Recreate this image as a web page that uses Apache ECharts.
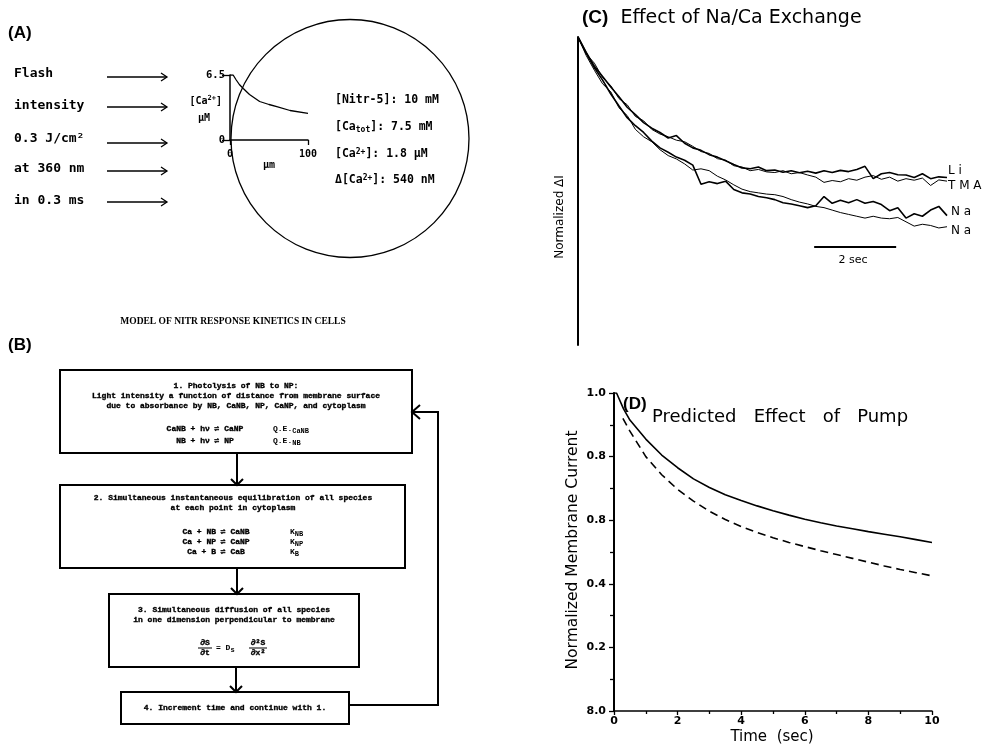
<!DOCTYPE html>
<html>
<head>
<meta charset="utf-8">
<script src="https://cdn.jsdelivr.net/npm/echarts@6/dist/echarts.min.js"></script>
<style>
  html, body { margin: 0; padding: 0; background: #fff; }
  #chart { width: 987px; height: 749px; }
</style>
</head>
<body>
<div id="chart"></div>
<script>
// ---- Panel A: [Ca2+] profile against depth into the cell ----
const depthUm   = [0, 4, 8, 12, 17, 25, 38, 50, 60, 77, 100];
const caProfile = [6.5, 6.5, 6.0, 5.55, 5.15, 4.55, 3.85, 3.55, 3.33, 2.95, 2.66];
const profileYTicks = ['0', '6.5'];
const profileXTicks = ['0', '100'];

// ---- Panel C: normalized fluorescence traces (seconds) ----
const traceTime = [0, 0.2, 0.4, 0.6, 0.8, 1.0, 1.2, 1.4, 1.6, 1.8, 2.0, 2.2, 2.4, 2.6, 2.8, 3.0,
  3.2, 3.4, 3.6, 3.8, 4.0, 4.2, 4.4, 4.6, 4.8, 5.0, 5.2, 5.4, 5.6, 5.8, 6.0, 6.2, 6.4, 6.6,
  6.8, 7.0, 7.2, 7.4, 7.6, 7.8, 8.0, 8.2, 8.4, 8.6, 8.8, 9.0];
const liTrace = [1.000, 0.950, 0.905, 0.872, 0.838, 0.806, 0.772, 0.748, 0.722, 0.704,
  0.690, 0.672, 0.680, 0.655, 0.640, 0.632, 0.618, 0.610, 0.598, 0.586,
  0.575, 0.572, 0.578, 0.566, 0.568, 0.561, 0.566, 0.559, 0.564, 0.558,
  0.566, 0.560, 0.567, 0.563, 0.570, 0.580, 0.540, 0.556, 0.560, 0.553,
  0.552, 0.544, 0.556, 0.540, 0.546, 0.544];
const tmaTrace = [1.000, 0.945, 0.915, 0.868, 0.842, 0.800, 0.780, 0.742, 0.728, 0.700,
  0.685, 0.676, 0.665, 0.660, 0.645, 0.628, 0.622, 0.605, 0.600, 0.582,
  0.578, 0.566, 0.570, 0.562, 0.560, 0.566, 0.556, 0.560, 0.552, 0.545,
  0.528, 0.534, 0.530, 0.540, 0.535, 0.545, 0.550, 0.538, 0.545, 0.532,
  0.540, 0.535, 0.542, 0.518, 0.536, 0.532];
const naTraceA = [1.000, 0.948, 0.900, 0.860, 0.815, 0.776, 0.738, 0.712, 0.690, 0.662,
  0.640, 0.626, 0.610, 0.600, 0.584, 0.522, 0.530, 0.524, 0.532, 0.505,
  0.494, 0.490, 0.482, 0.478, 0.472, 0.462, 0.458, 0.452, 0.446, 0.452,
  0.482, 0.460, 0.470, 0.462, 0.472, 0.460, 0.466, 0.456, 0.436, 0.446,
  0.412, 0.426, 0.418, 0.438, 0.450, 0.420];
const naTraceB = [1.000, 0.940, 0.892, 0.848, 0.822, 0.770, 0.745, 0.700, 0.676, 0.660,
  0.634, 0.615, 0.604, 0.588, 0.568, 0.572, 0.566, 0.548, 0.536, 0.520,
  0.506, 0.498, 0.494, 0.490, 0.488, 0.482, 0.472, 0.464, 0.458, 0.450,
  0.446, 0.438, 0.430, 0.424, 0.418, 0.412, 0.418, 0.412, 0.410, 0.414,
  0.400, 0.386, 0.392, 0.388, 0.380, 0.384];
const traceNames = ['Li', 'TMA', 'Na', 'Na'];
const scaleBarSec = [5.76, 7.76];
const scaleBarLevel = 0.318;

// ---- Panel D: predicted membrane current with / without pump ----
const pumpOnTime = [0, 0, 0.08, 0.3, 0.5, 1, 1.5, 2, 2.5, 3, 3.5, 4, 4.5, 5, 5.5, 6, 6.5, 7, 7.5, 8, 8.5, 9, 9.5, 10];
const pumpOn = [0, 1.0, 1.0, 0.95, 0.915, 0.855, 0.805, 0.765, 0.73, 0.703, 0.68, 0.662, 0.645, 0.63,
  0.616, 0.603, 0.592, 0.582, 0.573, 0.564, 0.556, 0.548, 0.539, 0.530];
const pumpOffTime = [0.28, 0.5, 0.75, 1, 1.5, 2, 2.5, 3, 3.5, 4, 4.5, 5, 5.5, 6, 6.5, 7, 7.5, 8, 8.5, 9, 9.5, 10];
const pumpOff = [0.92, 0.88, 0.84, 0.80, 0.743, 0.697, 0.66, 0.628, 0.602, 0.58, 0.561, 0.545, 0.53,
  0.517, 0.504, 0.492, 0.48, 0.468, 0.456, 0.445, 0.435, 0.425];
const pumpYTickLabels = ['8.0', '0.2', '0.4', '0.8', '0.8', '1.0'];

const zip = (xs, ys) => xs.map((x, i) => [x, ys[i]]);

// ---- fonts ----
const MONO = '"DejaVu Sans Mono", monospace';
const TYPE = '"Liberation Mono", monospace';
const SANS = '"DejaVu Sans", sans-serif';
const BOLDSANS = '"Liberation Sans", Arial, sans-serif';

// ---- graphic helpers ----
function txt(x, y, text, font, align, extra) {
  return Object.assign({
    type: 'text', x: x, y: y, z: 10,
    style: Object.assign({
      text: text, font: font, fill: '#000',
      align: align || 'left', verticalAlign: 'middle',
      textAlign: align || 'left', textVerticalAlign: 'middle'
    }, (extra && extra.style) || {})
  }, extra && extra.rotation !== undefined ? { rotation: extra.rotation } : {});
}
function line(x1, y1, x2, y2, w) {
  return { type: 'line', z: 10, shape: { x1: x1, y1: y1, x2: x2, y2: y2 },
    style: { stroke: '#000', lineWidth: w || 1.3 } };
}
function poly(points, w) {
  return { type: 'polyline', z: 10, shape: { points: points },
    style: { stroke: '#000', lineWidth: w || 1.3, fill: null } };
}
function rect(x, y, w, h, lw) {
  return { type: 'rect', z: 10, shape: { x: x, y: y, width: w, height: h },
    style: { stroke: '#000', lineWidth: lw || 2, fill: null } };
}
function arrowRight(x1, x2, y) {
  return [line(x1, y, x2, y, 1.3), poly([[x2 - 6, y - 4], [x2, y], [x2 - 6, y + 4]], 1.3)];
}
function arrowDown(x, y1, y2) {
  return [line(x, y1, x, y2, 2), poly([[x - 6, y2 - 6], [x, y2], [x + 6, y2 - 6]], 2)];
}
function richTxt(x, y, text, rich, align) {
  return { type: 'text', x: x, y: y, z: 10,
    style: { text: text, rich: rich, fill: '#000', align: align || 'left', verticalAlign: 'middle',
      textAlign: align || 'left', textVerticalAlign: 'middle' } };
}

const g = [];

// ---- Panel A drawing ----
g.push(txt(8, 33, '(A)', 'bold 17px ' + BOLDSANS));
const flashLines = [['Flash', 74, 77], ['intensity', 106, 107], ['0.3 J/cm²', 139, 143],
                    ['at 360 nm', 169, 171], ['in 0.3 ms', 201, 202]];
flashLines.forEach(function (f) {
  g.push(txt(14, f[1], f[0], 'bold 13px ' + MONO));
  arrowRight(107, 167, f[2]).forEach(function (e) { g.push(e); });
});
g.push({ type: 'circle', z: 9, shape: { cx: 350, cy: 138.5, r: 119 },
  style: { stroke: '#000', lineWidth: 1.3, fill: null } });
const richA = {
  n: { fontFamily: MONO, fontWeight: 'bold', fontSize: 11.5 },
  sup: { fontFamily: MONO, fontWeight: 'bold', fontSize: 8, verticalAlign: 'top', padding: [0, 0, 5, 0] },
  sub: { fontFamily: MONO, fontWeight: 'bold', fontSize: 8, verticalAlign: 'bottom', padding: [5, 0, 0, 0] }
};
const richAxis = {
  n: { fontFamily: MONO, fontWeight: 'bold', fontSize: 10 },
  sup: { fontFamily: MONO, fontWeight: 'bold', fontSize: 7, verticalAlign: 'top', padding: [0, 0, 5, 0] }
};
g.push(richTxt(335, 100, '{n|[Nitr-5]: 10 mM}', richA));
g.push(richTxt(335, 127, '{n|[Ca}{sub|tot}{n|]: 7.5 mM}', richA));
g.push(richTxt(335, 154, '{n|[Ca}{sup|2+}{n|]: 1.8 μM}', richA));
g.push(richTxt(335, 180, '{n|Δ[Ca}{sup|2+}{n|]: 540 nM}', richA));
g.push(richTxt(222, 101, '{n|[Ca}{sup|2+}{n|]}', richAxis, 'right'));
g.push(txt(204, 118, 'μM', 'bold 10px ' + MONO, 'center'));

// ---- Panel B drawing ----
g.push(txt(8, 345, '(B)', 'bold 17px ' + BOLDSANS));
g.push(txt(233, 322, 'MODEL OF NITR RESPONSE KINETICS IN CELLS', 'bold 9.5px "Liberation Serif", serif', 'center'));
g.push(rect(60, 370, 352, 83));
g.push(rect(60, 485, 345, 83));
g.push(rect(109, 594, 250, 73));
g.push(rect(121, 692, 228, 32));
arrowDown(237, 453, 485).forEach(function (e) { g.push(e); });
arrowDown(237, 568, 594).forEach(function (e) { g.push(e); });
arrowDown(236, 667, 692).forEach(function (e) { g.push(e); });
g.push(poly([[349, 705], [438, 705], [438, 412], [412, 412]], 2));
g.push(poly([[420, 405], [412, 412], [420, 419]], 2));

const TF = 'bold 8px ' + TYPE;
const heavy = { style: { stroke: '#000', lineWidth: 0.35 } };
const richB = {
  n: { fontFamily: TYPE, fontWeight: 'bold', fontSize: 8 },
  sub: { fontFamily: TYPE, fontWeight: 'bold', fontSize: 7, verticalAlign: 'bottom', padding: [5, 0, 0, 0] }
};
function tb(x, y, s, align) { return txt(x, y, s, TF, align || 'center', heavy); }
g.push(tb(236, 386, '1. Photolysis of NB to NP:'));
g.push(tb(236, 396, 'Light intensity a function of distance from membrane surface'));
g.push(tb(236, 406, 'due to absorbance by NB, CaNB, NP, CaNP, and cytoplasm'));
g.push(tb(205, 429, 'CaNB + hν ⇌ CaNP'));
g.push(tb(205, 441, 'NB + hν ⇌ NP'));
g.push(richTxt(273, 429, '{n|Q.E.}{sub|CaNB}', richB));
g.push(richTxt(273, 441, '{n|Q.E.}{sub|NB}', richB));

g.push(tb(233, 498, '2. Simultaneous instantaneous equilibration of all species'));
g.push(tb(233, 508, 'at each point in cytoplasm'));
g.push(tb(216, 532, 'Ca + NB ⇌ CaNB'));
g.push(tb(216, 542, 'Ca + NP ⇌ CaNP'));
g.push(tb(216, 552, 'Ca + B ⇌ CaB'));
g.push(richTxt(290, 532, '{n|K}{sub|NB}', richB));
g.push(richTxt(290, 542, '{n|K}{sub|NP}', richB));
g.push(richTxt(290, 552, '{n|K}{sub|B}', richB));

g.push(tb(234, 610, '3. Simultaneous diffusion of all species'));
g.push(tb(234, 620, 'in one dimension perpendicular to membrane'));
g.push(tb(205, 643, '∂S'));
g.push(line(198, 648, 212, 648, 1));
g.push(tb(205, 653, '∂t'));
g.push(richTxt(216, 648, '{n|= D}{sub|s}', richB));
g.push(tb(258, 643, '∂²S'));
g.push(line(249, 648, 267, 648, 1));
g.push(tb(258, 653, '∂x²'));

g.push(tb(235, 708, '4. Increment time and continue with 1.'));

// ---- Panel C text ----
g.push(richTxt(582, 18, '{b|(C)}{n|  Effect of Na/Ca Exchange}', {
  b: { fontFamily: BOLDSANS, fontWeight: 'bold', fontSize: 19 },
  n: { fontFamily: SANS, fontSize: 19 }
}));
g.push(txt(560, 217, 'Normalized ΔI', '12px ' + SANS, 'center', { rotation: Math.PI / 2 }));
const traceLabelPos = [[948, 171], [948, 186], [951, 212], [951, 231]];
traceNames.forEach(function (n, i) {
  g.push(txt(traceLabelPos[i][0], traceLabelPos[i][1], n.split('').join(' '), '12px ' + SANS));
});
g.push(txt(853, 260, '2 sec', '11px ' + SANS, 'center'));

// ---- Panel D text ----
g.push(txt(623, 404, '(D)', 'bold 17px ' + BOLDSANS));
g.push(txt(652, 417, 'Predicted   Effect   of   Pump', '18px ' + SANS));
g.push(txt(573, 550, 'Normalized Membrane Current', '15.5px ' + SANS, 'center', { rotation: Math.PI / 2 }));
g.push(txt(772, 737, 'Time  (sec)', '15px ' + SANS, 'center'));

const black = '#000';
const option = {
  animation: false,
  backgroundColor: '#fff',
  grid: [
    { left: 230, top: 75, width: 78, height: 65 },
    { left: 578, top: 37, width: 369, height: 308 },
    { left: 614, top: 393, width: 318, height: 318 }
  ],
  xAxis: [
    { gridIndex: 0, type: 'value', min: 0, max: 100, interval: 100,
      axisLine: { lineStyle: { color: black, width: 1.5 } },
      axisTick: { show: true, length: 5, lineStyle: { color: black, width: 1.3 } },
      axisLabel: { color: black, fontFamily: MONO, fontWeight: 'bold', fontSize: 10, margin: 9,
        formatter: function (v) { return profileXTicks[v === 0 ? 0 : 1]; } },
      splitLine: { show: false },
      name: 'μm', nameLocation: 'middle', nameGap: 20,
      nameTextStyle: { color: black, fontFamily: MONO, fontWeight: 'bold', fontSize: 10 } },
    { gridIndex: 1, type: 'value', min: 0, max: 9, show: false },
    { gridIndex: 2, type: 'value', min: 0, max: 10, interval: 2,
      axisLine: { lineStyle: { color: black, width: 1.5 } },
      axisTick: { show: true, length: 4, lineStyle: { color: black, width: 1.3 } },
      minorTick: { show: true, splitNumber: 2, length: 3, lineStyle: { color: black, width: 1.3 } },
      axisLabel: { color: black, fontFamily: SANS, fontWeight: 'bold', fontSize: 11, margin: 5 },
      splitLine: { show: false } }
  ],
  yAxis: [
    { gridIndex: 0, type: 'value', min: 0, max: 6.5, interval: 6.5,
      axisLine: { lineStyle: { color: black, width: 1.5 } },
      axisTick: { show: true, length: 8, lineStyle: { color: black, width: 1.3 } },
      axisLabel: { color: black, fontFamily: MONO, fontWeight: 'bold', fontSize: 10.5, margin: 5,
        formatter: function (v) { return profileYTicks[v === 0 ? 0 : 1]; } },
      splitLine: { show: false } },
    { gridIndex: 1, type: 'value', min: 0, max: 1,
      axisLine: { show: true, lineStyle: { color: black, width: 2 } },
      axisTick: { show: false }, axisLabel: { show: false }, splitLine: { show: false } },
    { gridIndex: 2, type: 'value', min: 0, max: 1, interval: 0.2,
      axisLine: { show: true, lineStyle: { color: black, width: 2 } },
      axisTick: { show: true, length: 5, lineStyle: { color: black, width: 1.3 } },
      minorTick: { show: true, splitNumber: 2, length: 4, lineStyle: { color: black, width: 1.3 } },
      axisLabel: { color: black, fontFamily: SANS, fontWeight: 'bold', fontSize: 11, margin: 8,
        formatter: function (v) { return pumpYTickLabels[Math.round(v / 0.2)]; } },
      splitLine: { show: false } }
  ],
  series: [
    { type: 'line', xAxisIndex: 0, yAxisIndex: 0, data: zip(depthUm, caProfile),
      symbol: 'none', lineStyle: { color: black, width: 1.3 } },
    { type: 'line', xAxisIndex: 1, yAxisIndex: 1, data: zip(traceTime, liTrace),
      symbol: 'none', lineStyle: { color: black, width: 1.6 } },
    { type: 'line', xAxisIndex: 1, yAxisIndex: 1, data: zip(traceTime, tmaTrace),
      symbol: 'none', lineStyle: { color: black, width: 1.0 } },
    { type: 'line', xAxisIndex: 1, yAxisIndex: 1, data: zip(traceTime, naTraceA),
      symbol: 'none', lineStyle: { color: black, width: 1.6 } },
    { type: 'line', xAxisIndex: 1, yAxisIndex: 1, data: zip(traceTime, naTraceB),
      symbol: 'none', lineStyle: { color: black, width: 1.0 } },
    { type: 'line', xAxisIndex: 1, yAxisIndex: 1,
      data: [[scaleBarSec[0], scaleBarLevel], [scaleBarSec[1], scaleBarLevel]],
      symbol: 'none', lineStyle: { color: black, width: 2 } },
    { type: 'line', xAxisIndex: 2, yAxisIndex: 2, data: zip(pumpOnTime, pumpOn),
      symbol: 'none', lineStyle: { color: black, width: 1.6 } },
    { type: 'line', xAxisIndex: 2, yAxisIndex: 2, data: zip(pumpOffTime, pumpOff),
      symbol: 'none', lineStyle: { color: black, width: 1.6, type: [8, 5] } }
  ],
  graphic: { elements: g }
};

const chart = echarts.init(document.getElementById('chart'), null, { renderer: 'canvas' });
chart.setOption(option);
</script>
</body>
</html>
